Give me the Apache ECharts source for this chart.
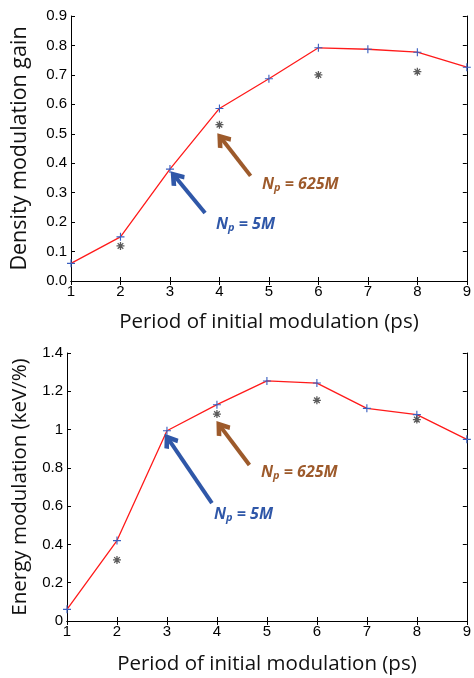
<!DOCTYPE html>
<html>
<head>
<meta charset="utf-8">
<script src="https://cdn.jsdelivr.net/npm/echarts@6/dist/echarts.min.js"></script>
<style>
  html, body { margin: 0; padding: 0; background: #fff; }
  #chart { width: 474px; height: 678px; }
</style>
</head>
<body>
<div id="chart"></div>
<script>
// period of initial modulation (ps)
const periods = [1, 2, 3, 4, 5, 6, 7, 8, 9];
const periods625 = [2, 4, 6, 8];

// density modulation gain
const density5M = [0.06, 0.15, 0.38, 0.586, 0.687, 0.792, 0.787, 0.777, 0.726];
const density625M = [0.119, 0.531, 0.70, 0.711];

// energy modulation (keV/%)
const energy5M = [0.061, 0.42, 0.994, 1.13, 1.254, 1.243, 1.111, 1.078, 0.949];
const energy625M = [0.319, 1.081, 1.153, 1.052];

// annotation arrows [tail, head] in data coords
const densityArrows = [
  { color: '#2f57a8', from: [3.71, 0.231], to: [3.11, 0.353] },
  { color: '#9d5a2b', from: [4.63, 0.357], to: [4.05, 0.482] },
];
const energyArrows = [
  { color: '#2f57a8', from: [3.90, 0.616], to: [3.04, 0.946] },
  { color: '#9d5a2b', from: [4.65, 0.815], to: [4.08, 1.013] },
];

const tickFont = "'Liberation Sans', Arial, sans-serif";
const titleFont = "'Open Sans', 'Noto Sans', sans-serif";

const plusSymbol = 'path://M4.3,0H5.7V4.3H10V5.7H5.7V10H4.3V5.7H0V4.3H4.3Z';
const starSymbol = 'path://M5,0L5,10M0,5L10,5M1.5,1.5L8.5,8.5M8.5,1.5L1.5,8.5';
const chevron = 'path://M5,0L10,7.5L8,9.5L5,5L2,9.5L0,7.5Z';

const chart = echarts.init(document.getElementById('chart'));

const grids = [
  { left: 71, right: 4, top: 16, height: 265 },
  { left: 67, right: 4, top: 353, height: 268 },
];

function xAxes(gi) {
  const base = {
    type: 'value', min: 1, max: 9, interval: 1, gridIndex: gi,
    axisLine: { show: true, lineStyle: { color: '#000', width: 1 } },
    axisTick: { show: true, inside: true, length: 4, lineStyle: { color: '#000' } },
    splitLine: { show: false },
  };
  return [
    Object.assign({}, base, {
      position: 'bottom',
      axisLabel: { color: '#000', fontSize: 15, fontFamily: tickFont, margin: 3 },
      name: 'Period of initial modulation (ps)',
      nameLocation: 'middle',
      nameGap: gi === 0 ? 31 : 33,
      nameTextStyle: { color: '#111', fontSize: 20.5, fontFamily: titleFont },
    }),
    Object.assign({}, base, { position: 'top', axisLabel: { show: false } }),
  ];
}

function yAxes(gi, max, interval, name, gap, size) {
  const base = {
    type: 'value', min: 0, max: max, interval: interval, gridIndex: gi,
    axisLine: { show: true, lineStyle: { color: '#000', width: 1 } },
    axisTick: { show: true, inside: true, length: 4, lineStyle: { color: '#000' } },
    splitLine: { show: false },
  };
  return [
    Object.assign({}, base, {
      position: 'left',
      axisLabel: {
        color: '#000', fontSize: 15, fontFamily: tickFont, margin: 4,
        formatter: (v) => (interval < 0.15 ? v.toFixed(1) : (v === 0 || v === 1 ? String(v) : v.toFixed(1))),
      },
      name: name,
      nameLocation: 'middle',
      nameGap: gap,
      nameTextStyle: { color: '#111', fontSize: size, fontFamily: titleFont },
    }),
    Object.assign({}, base, { position: 'right', axisLabel: { show: false } }),
  ];
}

function arrowLines(arrows) {
  return arrows.map((a) => [
    { coord: a.from, lineStyle: { color: a.color, width: 4, type: 'solid' } },
    { coord: a.to },
  ]);
}

function seriesFor(gi, ys, ys625, arrows) {
  return [
    {
      type: 'line',
      xAxisIndex: gi * 2,
      yAxisIndex: gi * 2,
      data: periods.map((p, i) => [p, ys[i]]),
      lineStyle: { color: '#ff1a1a', width: 1.3 },
      symbol: plusSymbol,
      symbolSize: 8,
      itemStyle: { color: '#3a5fc0' },
      showAllSymbol: true,
      animation: false,
      z: 3,
      markLine: {
        silent: true,
        symbol: ['none', chevron],
        symbolSize: [17, 15],
        label: { show: false },
        data: arrowLines(arrows),
        animation: false,
      },
    },
    {
      type: 'scatter',
      xAxisIndex: gi * 2,
      yAxisIndex: gi * 2,
      data: periods625.map((p, i) => [p, ys625[i]]),
      symbol: starSymbol,
      symbolSize: 8,
      itemStyle: { color: 'none', borderColor: '#333', borderWidth: 1.3 },
      animation: false,
      z: 4,
    },
  ];
}

function npLabel(x, y, color, value) {
  return {
    type: 'text',
    left: x,
    top: y,
    style: {
      text: '{n|N}{s|p}{n| = ' + value + '}',
      rich: {
        n: { fontSize: 16, fontWeight: 'bold', fontStyle: 'italic', fill: color, fontFamily: titleFont },
        s: { fontSize: 11, fontWeight: 'bold', fontStyle: 'italic', fill: color, fontFamily: titleFont, padding: [8, 0, 0, 0] },
      },
    },
  };
}

const option = {
  backgroundColor: '#fff',
  animation: false,
  grid: grids,
  xAxis: [...xAxes(0), ...xAxes(1)],
  yAxis: [
    ...yAxes(0, 0.9, 0.1, 'Density modulation gain', 40, 21.5),
    ...yAxes(1, 1.4, 0.2, 'Energy modulation (keV/%)', 36, 20.5),
  ],
  series: [
    ...seriesFor(0, density5M, density625M, densityArrows),
    ...seriesFor(1, energy5M, energy625M, energyArrows),
  ],
  graphic: [
    npLabel(216, 216, '#2f57a8', '5M'),
    npLabel(262, 176, '#9d5a2b', '625M'),
    npLabel(214, 506, '#2f57a8', '5M'),
    npLabel(261, 464, '#9d5a2b', '625M'),
  ],
};

chart.setOption(option);
</script>
</body>
</html>
